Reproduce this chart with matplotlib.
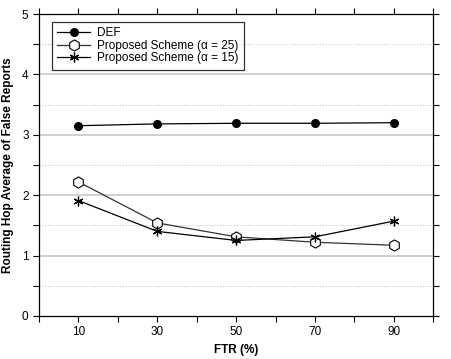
import matplotlib
matplotlib.use('Agg')
import matplotlib.pyplot as plt
from matplotlib.ticker import MultipleLocator

plt.rcParams['font.family'] = ['Liberation Sans', 'DejaVu Sans']

ftr = [10, 30, 50, 70, 90]
def_vals = [3.15, 3.18, 3.19, 3.19, 3.20]
a25_vals = [2.22, 1.54, 1.31, 1.22, 1.17]
a15_vals = [1.91, 1.40, 1.25, 1.31, 1.57]

fig = plt.figure(figsize=(4.51, 3.59), dpi=100)
ax = fig.add_axes([0.0865, 0.12, 0.874, 0.841])

# grid: solid at integers, dotted at halves
for y in [1, 2, 3, 4]:
    ax.axhline(y, color='#c8c8c8', lw=1.2, zorder=0)
for y in [0.5, 1.5, 2.5, 3.5, 4.5]:
    ax.axhline(y, color='#c8c8c8', lw=0.8, ls=(0, (1, 1.5)), zorder=0)

ax.plot(ftr, def_vals, color='black', lw=0.9, marker='o', ms=5.5,
        markerfacecolor='black', label='DEF')
ax.plot(ftr, a25_vals, color='#333333', lw=0.9, marker='h', ms=8,
        markerfacecolor='white', markeredgecolor='black', markeredgewidth=0.8,
        label='Proposed Scheme (\u03b1 = 25)')
ax.plot(ftr, a15_vals, color='black', lw=0.9, marker=(6, 2, 0), ms=7,
        markeredgecolor='black', markeredgewidth=0.9,
        label='Proposed Scheme (\u03b1 = 15)')

ax.set_xlim(0, 100)
ax.set_ylim(0, 5)
ax.set_xticks(ftr)
ax.xaxis.set_minor_locator(MultipleLocator(10))
ax.yaxis.set_major_locator(MultipleLocator(1))
ax.yaxis.set_minor_locator(MultipleLocator(0.5))
ax.tick_params(which='both', direction='out', top=True, right=True,
               labelsize=8.5, length=4, width=0.8)
ax.tick_params(axis='x', which='minor', top=True, length=4)

for s in ax.spines.values():
    s.set_linewidth(0.9)

ax.set_xlabel('FTR (%)', fontsize=8.5, fontweight='bold', labelpad=4)
ax.set_ylabel('Routing Hop Average of False Reports', fontsize=8.5,
              fontweight='bold', labelpad=6)

leg = ax.legend(loc='upper left', bbox_to_anchor=(0.033, 0.974), fontsize=8.5,
                frameon=True, fancybox=False, edgecolor='black',
                handlelength=2.8, borderpad=0.45, labelspacing=0.05,
                handletextpad=0.6, borderaxespad=0)
leg.get_frame().set_linewidth(0.9)

fig.savefig('out.png', dpi=100)
